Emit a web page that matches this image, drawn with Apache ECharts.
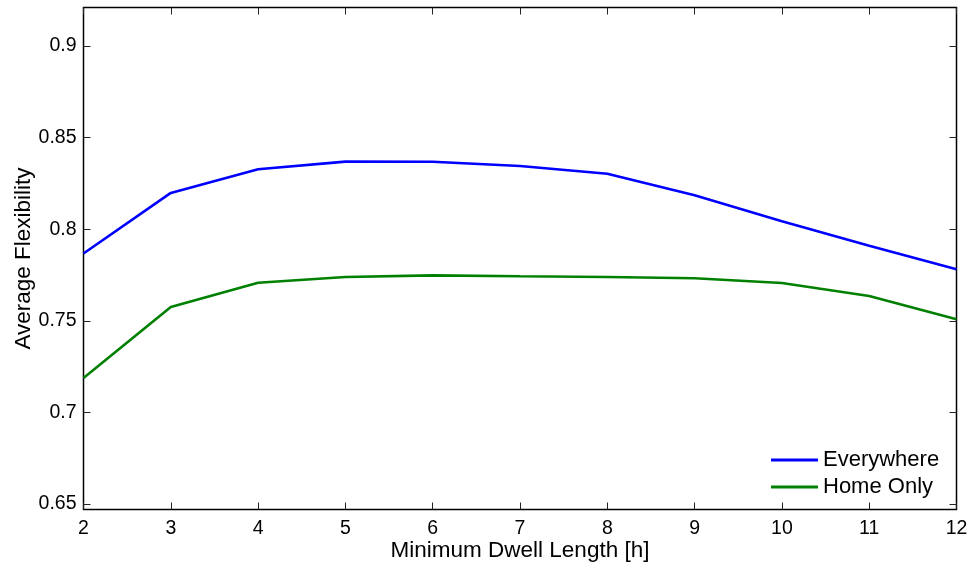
<!DOCTYPE html>
<html>
<head>
<meta charset="utf-8">
<script src="https://cdn.jsdelivr.net/npm/echarts@6/dist/echarts.min.js"></script>
<style>
  html, body { margin: 0; padding: 0; background: #fff; }
  #chart { width: 968px; height: 562px; }
</style>
</head>
<body>
<div id="chart"></div>
<script>
// Minimum dwell length in hours
const dwellHours = [2, 3, 4, 5, 6, 7, 8, 9, 10, 11, 12];
// Average flexibility per scenario
const everywhere = [0.7867, 0.8198, 0.8327, 0.8369, 0.8368, 0.8345, 0.8303, 0.8185, 0.8043, 0.7910, 0.7781];
const homeOnly   = [0.7188, 0.7575, 0.7708, 0.7739, 0.7748, 0.7743, 0.7739, 0.7732, 0.7706, 0.7635, 0.7508];
// Y tick values
const yTicks = [0.65, 0.7, 0.75, 0.8, 0.85, 0.9];

const FONT = 'Liberation Sans, Arial, Helvetica, sans-serif';
const pairs = (xs, ys) => xs.map((x, i) => [x, ys[i]]);

const chart = echarts.init(document.getElementById('chart'));

const tickStyle = { show: true, inside: true, length: 7, lineStyle: { color: '#222', width: 1 } };

chart.setOption({
  animation: false,
  backgroundColor: '#fff',
  grid: {
    left: 83.5, right: 11.5, top: 7.5, bottom: 52.5,
    outerBoundsMode: 'none', containLabel: false,
    show: true, borderColor: '#000', borderWidth: 1.5, backgroundColor: 'transparent'
  },
  xAxis: [{
    type: 'value', min: 2, max: 12, interval: 1,
    name: 'Minimum Dwell Length [h]', nameLocation: 'middle', nameGap: 29.5,
    nameMoveOverlap: false,
    nameTextStyle: { fontFamily: FONT, fontSize: 22.5, color: '#000' },
    axisLine: { show: false },
    axisTick: tickStyle,
    axisLabel: { fontFamily: FONT, fontSize: 19.5, color: '#000', margin: 9 },
    splitLine: { show: false }
  }, {
    type: 'value', min: 2, max: 12, interval: 1, position: 'top',
    axisLine: { show: false }, axisTick: tickStyle,
    axisLabel: { show: false }, splitLine: { show: false }
  }],
  yAxis: [{
    type: 'value', min: 0.647, max: 0.921,
    name: 'Average Flexibility', nameLocation: 'middle', nameGap: 48,
    nameMoveOverlap: false,
    nameTextStyle: { fontFamily: FONT, fontSize: 22.5, color: '#000' },
    axisLine: { show: false },
    axisTick: Object.assign({ customValues: yTicks }, tickStyle),
    axisLabel: { customValues: yTicks, fontFamily: FONT, fontSize: 19.5, color: '#000', margin: 7 },
    splitLine: { show: false }
  }, {
    type: 'value', min: 0.647, max: 0.921, position: 'right',
    axisLine: { show: false },
    axisTick: Object.assign({ customValues: yTicks }, tickStyle),
    axisLabel: { show: false }, splitLine: { show: false }
  }],
  legend: {
    orient: 'vertical', left: 766, top: 444,
    icon: 'rect', itemWidth: 47, itemHeight: 3, itemGap: 5,
    textStyle: { fontFamily: FONT, fontSize: 22, color: '#000', padding: [0, 0, 0, 0] },
    data: ['Everywhere', 'Home Only']
  },
  series: [{
    name: 'Everywhere', type: 'line', data: pairs(dwellHours, everywhere),
    showSymbol: false, symbol: 'none',
    lineStyle: { color: '#0000ff', width: 2.6 }, itemStyle: { color: '#0000ff' }
  }, {
    name: 'Home Only', type: 'line', data: pairs(dwellHours, homeOnly),
    showSymbol: false, symbol: 'none',
    lineStyle: { color: '#008000', width: 2.6 }, itemStyle: { color: '#008000' }
  }]
});
</script>
</body>
</html>
